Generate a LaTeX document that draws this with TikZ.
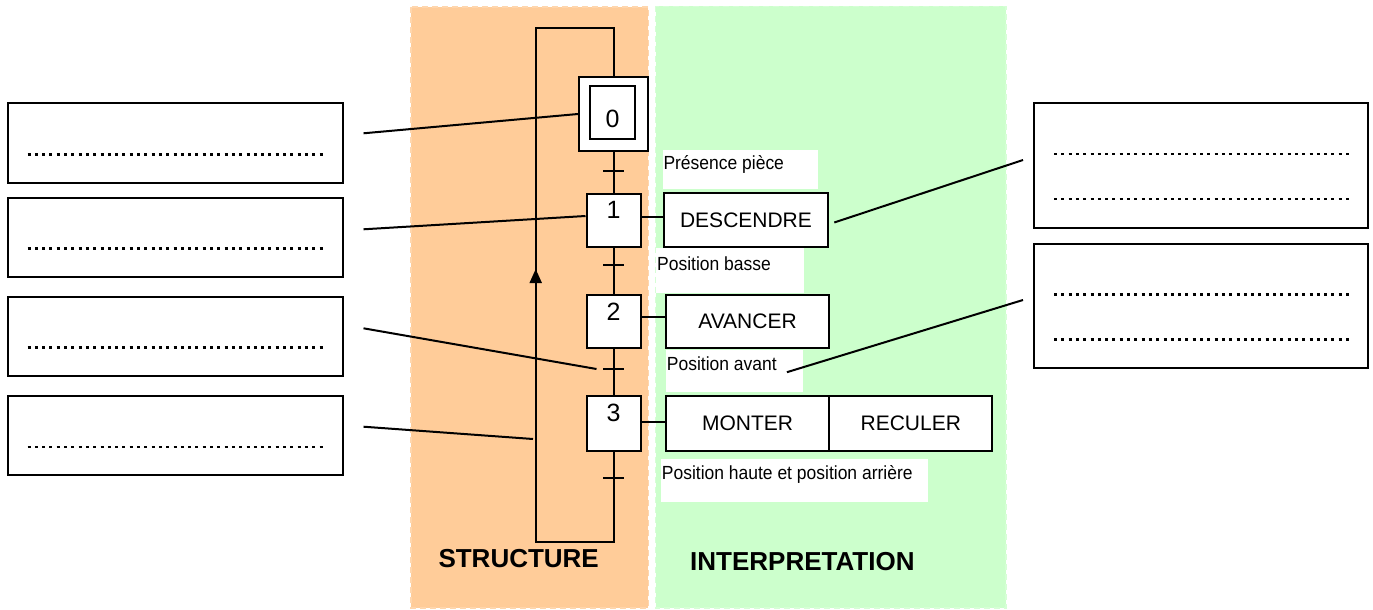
\documentclass[tikz,border=0pt]{standalone}
\usepackage{fontspec}
\setmainfont{Liberation Sans}
\newfontfamily\condfont[FakeStretch=0.92]{Liberation Sans}
\usetikzlibrary{arrows.meta}
\definecolor{orangebg}{RGB}{255,204,153}
\definecolor{greenbg}{RGB}{204,255,204}
\begin{document}
\begin{tikzpicture}[x=1pt,y=-1pt,
  zone/.style={line width=1.2pt, dash pattern=on 6pt off 4pt},
  box/.style={draw=black, line width=2pt, fill=white, inner sep=0pt},
  stepbox/.style={box, minimum width=54pt, minimum height=53pt},
  actbox/.style={box, minimum height=53.5pt, font=\fontsize{21}{25}\selectfont},
  answer/.style={box, minimum width=335pt},
  num/.style={inner sep=0pt, font=\fontsize{25}{28}\selectfont},
  cond/.style={inner sep=0pt, anchor=base west, font=\condfont\fontsize{19}{22}\selectfont},
  labelbg/.style={fill=white, inner sep=0pt},
  title/.style={inner sep=0pt, anchor=base west, font=\bfseries\fontsize{26}{30}\selectfont},
  link/.style={line width=2pt, draw=black},
  dots/.style={line width=2.6pt, dash pattern=on 3pt off 4.3pt},
  tick/.style={line width=2pt}]
\useasboundingbox (0,0) rectangle (1373,610);
\fill[white] (0,0) rectangle (1373,610);

% zones
\fill[orangebg] (411,7) rectangle (648.3,608);
\draw[zone, draw=white!20!orangebg] (411,7) rectangle (648.3,608);
\fill[greenbg] (655.7,6.5) rectangle (1006,608);
\draw[zone, draw=white!20!greenbg] (655.7,6.5) rectangle (1006,608);

% white label backgrounds
\node[labelbg, minimum width=155pt, minimum height=39pt] (bg1) at (740.2,169.5) {};
\node[labelbg, minimum width=148.6pt, minimum height=45pt] (bg2) at (730,270.8) {};
\node[labelbg, minimum width=137.3pt, minimum height=41.7pt] (bg3) at (734.7,370.8) {};
\node[labelbg, minimum width=267.3pt, minimum height=42.4pt] (bg4) at (794.7,480.5) {};

% transitions coordinates
\coordinate (t0) at (613.5,171);
\coordinate (t1) at (613.5,265);
\coordinate (t2) at (613.5,369);
\coordinate (t3) at (613.5,477.7);
\coordinate (loopbl) at (535.7,542);
\coordinate (looptl) at (535.7,28.3);
\coordinate (arrbase) at (535.7,300);
\coordinate (arrtip) at (535.7,269);

% steps
\node[box, minimum width=69pt, minimum height=74pt] (s0) at (613.5,114) {};
\node[box, minimum width=45.5pt, minimum height=53.5pt] (s0in) at (612.5,112.5) {};
\node[num] (n0) at (612.5,118.7) {0};
\node[stepbox] (s1) at (613.5,220) {};
\node[num] (n1) at (613.5,209.5) {1};
\node[stepbox] (s2) at (613.5,321.7) {};
\node[num] (n2) at (613.5,311.7) {2};
\node[stepbox, minimum height=54.5pt] (s3) at (613.5,423.3) {};
\node[num] (n3) at (613.5,413) {3};

% links between steps
\draw[link] (s0.south) -- (s1.north);
\draw[link] (s1.south) -- (s2.north);
\draw[link] (s2.south) -- (s3.north);
\draw[link] (s3.south) |- (loopbl) -- (looptl) -| (s0.north);
\draw[-{Triangle[width=12pt,length=14pt]}, line width=2pt] (arrbase) -- (arrtip);

% transition ticks
\foreach \t in {t0,t1,t2,t3}
  \draw[tick] ([xshift=-10.5pt]\t) -- ([xshift=10.5pt]\t);

% actions
\node[actbox, minimum width=164.5pt] (a1) at (746,220) {DESCENDRE};
\node[actbox, minimum width=163.5pt] (a2) at (747.5,321.7) {AVANCER};
\node[actbox, minimum width=163.5pt, minimum height=54.5pt] (a3) at (747.5,423.3) {MONTER};
\node[actbox, minimum width=163pt, minimum height=54.5pt] (a4) at (910.8,423.3) {RECULER};
\draw[link] ([yshift=3pt]s1.east) -- ([yshift=3pt]a1.west);
\draw[link] ([yshift=5pt]s2.east) -- ([yshift=5pt]a2.west);
\draw[link] ([yshift=1pt]s3.east) -- ([yshift=1pt]a3.west);

% receptivity labels
\node[cond] (r0) at (663.3,169.3) {Présence pièce};
\node[cond] (r1) at (657,270) {Position basse};
\node[cond] (r2) at (666.7,370.7) {Position avant};
\node[cond] (r3) at (661.7,479) {Position haute et position arrière};

% titles
\node[title] (tstruct) at (438.3,567.7) {STRUCTURE};
\node[title] (tinterp) at (690,570) {INTERPRETATION};

% left answer boxes
\node[answer, minimum height=79.4pt] (lb1) at (175,143) {};
\node[answer, minimum height=79pt] (lb2) at (175,237.2) {};
\node[answer, minimum height=79.3pt] (lb3) at (175,336.3) {};
\node[answer, minimum height=79pt] (lb4) at (175,435.5) {};
\foreach \b in {lb1,lb2,lb3,lb4}
  \draw[dots] ([xshift=21pt,yshift=-52pt]\b.north west) -- ([xshift=-20pt,yshift=-52pt]\b.north east);

% right answer boxes
\node[answer, minimum width=334pt, minimum height=125pt] (rb1) at (1201,165.8) {};
\node[answer, minimum width=334pt, minimum height=124.3pt] (rb2) at (1201,306.2) {};
\foreach \b in {rb1,rb2} {
  \draw[dots] ([xshift=21pt,yshift=-51.5pt]\b.north west) -- ([xshift=-19pt,yshift=-51.5pt]\b.north east);
  \draw[dots] ([xshift=21pt,yshift=-96.5pt]\b.north west) -- ([xshift=-19pt,yshift=-96.5pt]\b.north east);
}

% pointer lines
\coordinate (p1) at (363.5,133.3);
\coordinate (p2) at (363.5,229.3);
\coordinate (p3) at (363.5,328.3);
\coordinate (p4) at (363.5,426.7);
\coordinate (p4e) at (533,439);
\coordinate (q1) at (1023,160);
\coordinate (q2) at (1023,300);
\draw[link] (p1) -- (s0.west);
\draw[link] (p2) -- ([yshift=4pt]s1.west);
\draw[link] (p3) -- ([xshift=-17pt]t2);
\draw[link] (p4) -- (p4e);
\draw[link] ([xshift=5pt,yshift=-2.5pt]a1.east) -- (q1);
\draw[link] ([xshift=10pt,yshift=-1.5pt]r2.base east) -- (q2);
\end{tikzpicture}
\end{document}
